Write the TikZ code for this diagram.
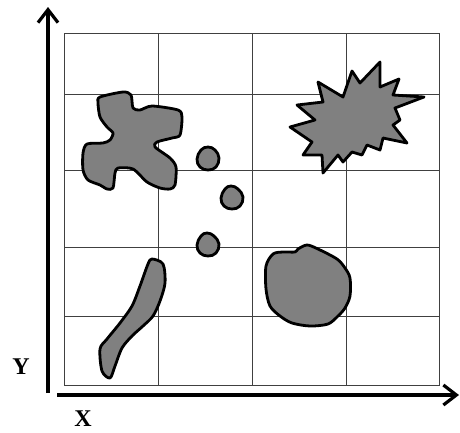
\documentclass[tikz,border=0pt]{standalone}
\usepackage{fontspec}
\setmainfont{Liberation Serif}
\usetikzlibrary{arrows.meta}
\begin{document}
\begin{tikzpicture}[x=1pt,y=-1pt,
  gridline/.style={draw=black!75,line width=0.9pt},
  blob/.style={draw=black,fill=black!50,line width=2.8pt,line join=round},
  axis/.style={draw=black,line width=4pt,-{Straight Barb[length=13pt,width=20pt,line width=3.2pt]}},
  axlabel/.style={font=\fontsize{24}{26}\selectfont\bfseries,inner sep=0pt}]
\useasboundingbox (0,0) rectangle (460,432);
% grid
\draw[gridline] (64,33) rectangle (439,385);
\foreach \x in {158,252,346} \draw[gridline] (\x,33) -- (\x,385);
\foreach \y in {94,170,247,316} \draw[gridline] (64,\y) -- (439,\y);
% axes
\coordinate (ybot) at (48,393);
\coordinate (ytop) at (48,7);
\coordinate (xleft) at (57,395);
\coordinate (xright) at (459,395);
\draw[axis] (ybot) -- (ytop);
\draw[axis] (xleft) -- (xright);
\node[axlabel] (ylab) at (21,367) {Y};
\node[axlabel] (xlab) at (83,419) {X};
% cross-like blob
\draw[blob] plot[smooth cycle,tension=0.45] coordinates {
 (100,97) (123,92) (131,95) (133,108) (140,110) (152,106) (178,110) (182,117)
 (180,135) (172,138) (157,142) (155,147) (170,158) (176,167) (175,185) (170,189)
 (160,188) (147,182) (133,169) (118,168) (115,173) (113,188) (107,189) (100,185)
 (88,180) (83,170) (83,153) (87,144) (103,143) (110,140) (113,133) (107,127)
 (100,117) (98,103)};
% small dots
\draw[blob] plot[smooth cycle,tension=0.7] coordinates {
 (208,147) (215,150) (219,158) (216,167) (208,170) (200,167) (197,159) (201,150)};
\draw[blob] plot[smooth cycle,tension=0.7] coordinates {
 (231,186) (238,189) (243,197) (240,206) (232,209) (224,206) (221,198) (225,189)};
\draw[blob] plot[smooth cycle,tension=0.7] coordinates {
 (207,233) (214,236) (219,244) (216,253) (208,256) (200,253) (197,245) (201,236)};
% starburst
\draw[blob] (380,62) -- (380,87) -- (399,79) -- (393,95) -- (424,97) -- (395,108)
 -- (400,120) -- (393,125) -- (407,143) -- (383,138) -- (380,150) -- (367,145)
 -- (362,155) -- (352,152) -- (343,162) -- (338,155) -- (323,173) -- (322,155)
 -- (303,155) -- (312,142) -- (290,127) -- (315,120) -- (297,105) -- (323,102)
 -- (318,82) -- (343,97) -- (352,71) -- (360,83) -- cycle;
% round blob
\draw[blob] plot[smooth cycle,tension=0.5] coordinates {
 (298,249) (307,245) (318,249) (337,259) (345,268) (350,278) (350,296) (345,308)
 (338,316) (328,324) (310,326) (292,323) (280,316) (270,306) (266,289) (266,266)
 (273,254) (283,252) (295,252)};
% elongated blob
\draw[blob] plot[smooth cycle,tension=0.5] coordinates {
 (152,259) (163,264) (165,283) (160,301) (153,316) (143,326) (132,336) (122,348)
 (115,366) (110,378) (102,371) (100,349) (107,339) (120,323) (132,306) (140,286)
 (148,264)};
\end{tikzpicture}
\end{document}
